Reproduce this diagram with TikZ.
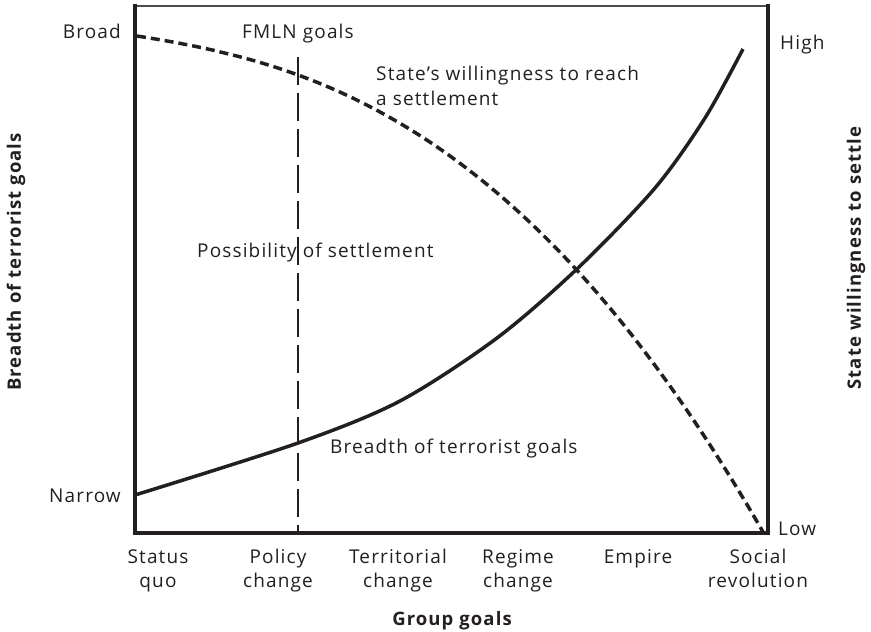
\documentclass[tikz,border=0pt]{standalone}
\usepackage{fontspec}
\setmainfont{Open Sans}[LetterSpace=6]
\definecolor{ink}{HTML}{231F20}
\begin{document}
\begin{tikzpicture}[x=1pt,y=-1pt,
  lbl/.style={inner sep=0pt,text=ink,font=\fontsize{19}{25}\selectfont},
  tick/.style={lbl,align=center,anchor=base,font=\fontsize{19}{24}\selectfont},
  axtitle/.style={inner sep=0pt,text=ink,font=\fontsize{18.5}{20}\selectfont\bfseries},
  axisline/.style={line width=4pt,draw=ink},
  curvesolid/.style={line width=3.5pt,draw=ink},
  curvedash/.style={line width=3.5pt,draw=ink,dash pattern=on 9pt off 5pt},
  fmln/.style={line width=1.5pt,draw=ink,dash pattern=on 28pt off 8pt}]
\useasboundingbox (0,0) rectangle (871,632);
% frame
\coordinate (tl) at (135,6);
\coordinate (tr) at (768,6);
\coordinate (bl) at (135,533);
\coordinate (br) at (768,533);
\draw[line width=1.5pt,draw=ink!80] (tl) -- (tr);
\draw[axisline,line cap=rect] (tl) -- (bl) -- (br) -- (tr);
% curves
\draw[curvesolid] plot[smooth,tension=0.5] coordinates
  {(135,495) (298,443) (400,401) (497,338) (578,268) (655,188) (705,118) (743,49)};
\coordinate (ds) at (137,36);
\draw[curvedash] (ds) -- plot[domain=0.01:1,samples=80]
  ({137+626*\x},{36+100*\x+396*pow(\x,2.5)});
% FMLN line
\coordinate (fm) at (298,57);
\coordinate (fb) at (298,533);
\draw[fmln] (fm) -- (fb);
% labels
\node[lbl,anchor=base east] (broad) at (121,38) {Broad};
\node[lbl,anchor=base east] (narrow) at (121,502) {Narrow};
\node[lbl,anchor=base west] (high) at (780,49) {High};
\node[lbl,anchor=base west] (low) at (778,535) {Low};
\node[lbl,anchor=base] (fmlnl) at (298,38) {FMLN goals};
\node[lbl,anchor=base west,align=left] (state) at (376,105) {State’s willingness to reach\\a settlement};
\node[lbl,anchor=base west] (poss) at (197,257) {Possibility of settlement};
\node[lbl,anchor=base west] (bre) at (330,453) {Breadth of terrorist goals};
% ticks
\node[tick] (t1) at (158,587) {Status\\quo};
\node[tick] (t2) at (278,587) {Policy\\change};
\node[tick] (t3) at (398,587) {Territorial\\change};
\node[tick] (t4) at (518,587) {Regime\\change};
\node[tick] (t5) at (638,563) {Empire};
\node[tick] (t6) at (758,587) {Social\\revolution};
\node[axtitle,anchor=base] (gg) at (452,625) {Group goals};
\node[axtitle,rotate=90] (ly) at (16,262) {Breadth of terrorist goals};
\node[axtitle,rotate=90] (ry) at (856,258) {State willingness to settle};
\end{tikzpicture}
\end{document}
